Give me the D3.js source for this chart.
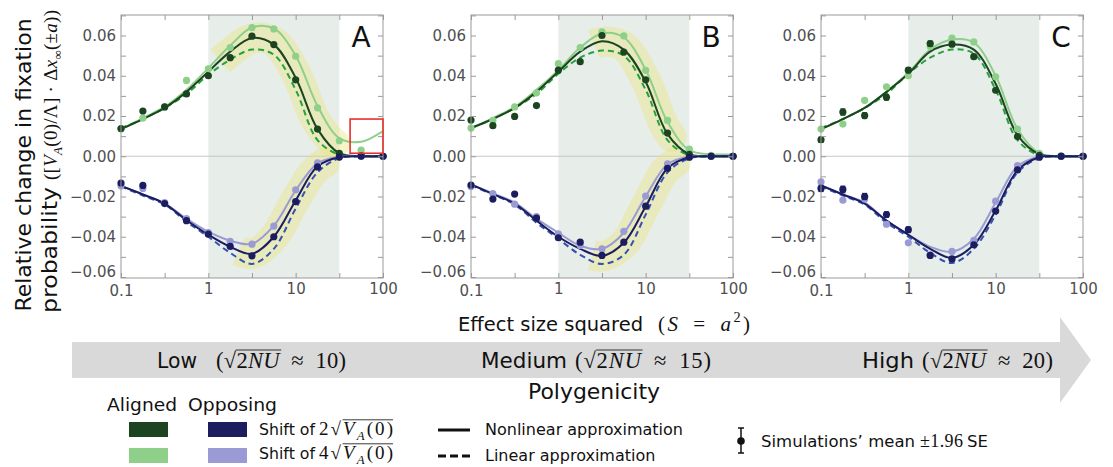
<!DOCTYPE html>
<html><head><meta charset="utf-8">
<script src="https://cdn.jsdelivr.net/npm/d3@7"></script>
<style>body{margin:0;background:#fff}svg{display:block}</style>
</head><body>
<svg id="c" width="1113" height="467"></svg>
<script>
// ---------- DATA ----------
const S = [0.1,0.178,0.316,0.562,1,1.78,3.16,5.62,10,17.8,31.6,56.2,100];
const xMajorTicks = [0.1,1,10,100];
const xTickLabels = ["0.1","1","10","100"];
const xMinorTicks = [0.316,3.16,31.6];
const yMajorTicks = [-0.06,-0.04,-0.02,0,0.02,0.04,0.06];
const yTickLabels = ["\u22120.06","\u22120.04","\u22120.02","0.00","0.02","0.04","0.06"];
const yMinorTicks = [-0.05,-0.03,-0.01,0.01,0.03,0.05,0.07];
const panelLetters = ["A","B","C"];
const shadeRange = [1,31.6];
const polyLabels = ["Low","Medium","High"];
const polyValues = ["10","15","20"];

// Panel A curves
const A_nonlinAligned2 = [0.0135,0.0185,0.024,0.032,0.042,0.052,0.0588,0.0555,0.039,0.0135,0.0015,0,0];
const A_nonlinAligned4 = [0.0135,0.019,0.0245,0.033,0.0438,0.055,0.064,0.0635,0.050,0.025,0.009,0.0072,0.0125];
const A_linAligned     = [0.014,0.0185,0.024,0.031,0.0405,0.048,0.053,0.0505,0.033,0.008,0.0008,0,0];
const A_nonlinOpp2     = [-0.0148,-0.019,-0.0235,-0.0318,-0.039,-0.045,-0.0485,-0.040,-0.022,-0.005,-0.0005,0,0];
const A_nonlinOpp4     = [-0.0148,-0.019,-0.0235,-0.031,-0.0375,-0.042,-0.0435,-0.0345,-0.017,-0.0035,-0.0002,0,0];
const A_linOpp         = [-0.015,-0.0195,-0.024,-0.0325,-0.040,-0.048,-0.0535,-0.046,-0.026,-0.008,-0.001,0,0];
// Panel A simulations
const A_simAligned2 = [0.0138,0.0225,0.0245,0.031,0.040,0.049,0.0597,0.0555,0.038,0.0135,0.0015,0.0002,0];
const A_simAligned4 = [0.0135,0.019,0.0245,0.0377,0.0435,0.054,0.064,0.0633,0.0497,0.024,0.0077,0.003,0];
const A_simOpp2     = [-0.0133,-0.0145,-0.0235,-0.032,-0.0387,-0.0448,-0.0495,-0.040,-0.0225,-0.0053,-0.0004,0,0];
const A_simOpp4     = [-0.0147,-0.016,-0.023,-0.031,-0.038,-0.0423,-0.0437,-0.0347,-0.0167,-0.0033,-0.0002,0,0];

// Panel B curves
const B_nonlinAligned2 = [0.014,0.0185,0.024,0.032,0.042,0.052,0.0572,0.053,0.037,0.011,0.001,0,0];
const B_nonlinAligned4 = [0.014,0.019,0.0245,0.033,0.0428,0.054,0.061,0.059,0.043,0.017,0.003,0.001,0.001];
const B_linAligned     = [0.014,0.0185,0.024,0.031,0.041,0.049,0.0525,0.050,0.033,0.008,0.0005,0,0];
const B_nonlinOpp2     = [-0.014,-0.0188,-0.0235,-0.032,-0.040,-0.046,-0.0495,-0.043,-0.025,-0.006,-0.0005,0,0];
const B_nonlinOpp4     = [-0.014,-0.0185,-0.023,-0.031,-0.038,-0.0445,-0.046,-0.038,-0.020,-0.004,-0.0002,0,0];
const B_linOpp         = [-0.0145,-0.019,-0.024,-0.033,-0.041,-0.049,-0.0535,-0.049,-0.029,-0.008,-0.001,0,0];
// Panel B simulations
const B_simAligned2 = [0.018,0.0152,0.0198,0.0252,0.0428,0.047,0.060,0.0518,0.038,0.0115,0.001,0,0];
const B_simAligned4 = [0.014,0.0178,0.0245,0.0315,0.046,0.054,0.0618,0.0598,0.0427,0.0178,0.0035,0.0005,0];
const B_simOpp2     = [-0.0143,-0.0213,-0.0188,-0.0307,-0.0405,-0.0427,-0.0493,-0.0427,-0.0248,-0.006,-0.0005,0,0];
const B_simOpp4     = [-0.015,-0.0185,-0.0238,-0.030,-0.0385,-0.0443,-0.046,-0.0373,-0.0198,-0.0038,-0.0002,0,0];

// Panel C curves
const C_nonlinAligned2 = [0.0135,0.0185,0.024,0.032,0.041,0.052,0.0555,0.053,0.036,0.0105,0.001,0,0];
const C_nonlinAligned4 = [0.0135,0.0185,0.024,0.032,0.0415,0.053,0.058,0.0565,0.040,0.0135,0.0015,0,0];
const C_linAligned     = [0.014,0.0185,0.024,0.031,0.041,0.049,0.053,0.051,0.033,0.008,0.0005,0,0];
const C_nonlinOpp2     = [-0.0145,-0.019,-0.0235,-0.032,-0.039,-0.046,-0.0505,-0.044,-0.027,-0.007,-0.0005,0,0];
const C_nonlinOpp4     = [-0.0145,-0.019,-0.023,-0.032,-0.039,-0.045,-0.0475,-0.041,-0.023,-0.005,-0.0002,0,0];
const C_linOpp         = [-0.015,-0.0195,-0.024,-0.033,-0.040,-0.048,-0.053,-0.046,-0.029,-0.008,-0.001,0,0];
// Panel C simulations
const C_simAligned2 = [0.0082,0.022,0.0202,0.0293,0.0428,0.056,0.0557,0.0495,0.0328,0.0098,0.0005,0,0];
const C_simAligned4 = [0.0135,0.016,0.0278,0.0345,0.040,0.0545,0.0587,0.0568,0.0395,0.0135,0.0015,0.0002,0];
const C_simOpp2     = [-0.016,-0.0165,-0.020,-0.029,-0.0365,-0.0493,-0.051,-0.044,-0.0272,-0.0068,-0.0005,0,0];
const C_simOpp4     = [-0.0127,-0.0218,-0.0213,-0.0338,-0.043,-0.049,-0.0473,-0.0418,-0.0223,-0.0047,-0.0002,0,0];
const C_seAligned2  = [0.0013,0.0015,0.0014,0.0013,0.0012,0.0012,0.0009,0.0008,0.0008,0.0006,0.0003,0.0002,0.0002];
const C_seOpp2      = [0.0015,0.0016,0.0015,0.0013,0.0013,0.0010,0.0008,0.0008,0.0008,0.0006,0.0003,0.0002,0.0002];

// Highlight bands (S ranges) and the red box in panel A
const bandAligned  = [[1.35,28],[2.5,20],null];
const bandOpposing = [[2.2,22],[2.4,22],null];
const redBoxS = [42,100];
const redBoxY = [0.0015,0.0185];

// ---------- STYLE ----------
const SANS = "DejaVu Sans", SERIF = "Liberation Serif";
const col = {
  dkG:"#1c4420", ltG:"#8ecf8a", dsG:"#25a23a",
  dkB:"#1b1d60", ltB:"#9a9bd4", dsB:"#3451b2"
};
const panels = [
  {c:[A_nonlinAligned2,A_nonlinAligned4,A_linAligned,A_nonlinOpp2,A_nonlinOpp4,A_linOpp], p:[A_simAligned2,A_simAligned4,A_simOpp2,A_simOpp4], se:null},
  {c:[B_nonlinAligned2,B_nonlinAligned4,B_linAligned,B_nonlinOpp2,B_nonlinOpp4,B_linOpp], p:[B_simAligned2,B_simAligned4,B_simOpp2,B_simOpp4], se:null},
  {c:[C_nonlinAligned2,C_nonlinAligned4,C_linAligned,C_nonlinOpp2,C_nonlinOpp4,C_linOpp], p:[C_simAligned2,C_simAligned4,C_simOpp2,C_simOpp4], se:[C_seAligned2,C_seOpp2]}
];

const svg = d3.select("#c");
const panelLeft = [121,471,821];
const PW = 262, PT = 15, PB = 278;
const y = d3.scaleLinear().domain([-0.0605,0.0702]).range([PB,PT]);

panels.forEach((P,i)=>{
  const L = panelLeft[i];
  const x = d3.scaleLog().domain([0.1,100]).range([L,L+PW]);
  const g = svg.append("g");
  svg.append("clipPath").attr("id","clip"+i).append("rect")
    .attr("x",L).attr("y",PT).attr("width",PW).attr("height",PB-PT);
  g.append("rect").attr("x",x(shadeRange[0])).attr("y",PT)
    .attr("width",x(shadeRange[1])-x(shadeRange[0])).attr("height",PB-PT).attr("fill","#e7ede9");
  g.append("line").attr("x1",L).attr("x2",L+PW).attr("y1",y(0)).attr("y2",y(0))
    .attr("stroke","#c6c6c6").attr("stroke-width",1);
  const cg = g.append("g").attr("clip-path",`url(#clip${i})`);
  const line = d3.line().x((d,j)=>x(S[j])).y(d=>y(d)).curve(d3.curveCatmullRom.alpha(0.5));

  // yellow highlight bands: butt start, rounded end
  [[bandAligned[i],P.c[1],P.c[2]],[bandOpposing[i],P.c[4],P.c[5]]].forEach(([rng,a,b])=>{
    if(!rng) return;
    const mid = a.map((v,j)=>(v+b[j])/2);
    const tmp = cg.append("path").attr("d",line(mid)).attr("fill","none");
    const node = tmp.node(), len = node.getTotalLength();
    const pts = [];
    for(let s=0;s<=len;s+=1){const pt=node.getPointAtLength(s); if(pt.x>=x(rng[0])&&pt.x<=x(rng[1])) pts.push([pt.x,pt.y]);}
    tmp.remove();
    const bg = cg.append("g").attr("opacity",0.38);
    const W = 30;
    bg.append("path").attr("d",d3.line()(pts)).attr("fill","none").attr("stroke","#ebe474")
      .attr("stroke-width",W).attr("stroke-linejoin","round");
    const e = pts[pts.length-1];
    bg.append("circle").attr("cx",e[0]).attr("cy",e[1]).attr("r",W/2).attr("fill","#ebe474");
  });

  // curves
  const specs = [
    [P.c[1],col.ltG,null],[P.c[2],col.dsG,"6,4"],[P.c[0],col.dkG,null],
    [P.c[4],col.ltB,null],[P.c[5],col.dsB,"6,4"],[P.c[3],col.dkB,null]
  ];
  specs.forEach(([d,c,dash])=>{
    cg.append("path").attr("d",line(d)).attr("fill","none").attr("stroke",c)
      .attr("stroke-width",2).attr("stroke-dasharray",dash);
  });

  // simulation points
  const ptSpecs = [[P.p[1],col.ltG],[P.p[3],col.ltB],[P.p[0],col.dkG,P.se?P.se[0]:null],[P.p[2],col.dkB,P.se?P.se[1]:null]];
  ptSpecs.forEach(([d,c,se])=>{
    d.forEach((v,j)=>{
      if(v===null) return;
      if(se){
        const y1=y(v+se[j]), y2=y(v-se[j]), cx=x(S[j]);
        g.append("line").attr("x1",cx).attr("x2",cx).attr("y1",y1).attr("y2",y2).attr("stroke",c).attr("stroke-width",1.3);
        [y1,y2].forEach(yy=>g.append("line").attr("x1",cx-2.5).attr("x2",cx+2.5).attr("y1",yy).attr("y2",yy).attr("stroke",c).attr("stroke-width",1.3));
      }
      g.append("circle").attr("cx",x(S[j])).attr("cy",y(v)).attr("r",3.6).attr("fill",c);
    });
  });

  // axes
  const xAll = xMajorTicks.concat(xMinorTicks);
  const yAll = yMajorTicks.concat(yMinorTicks);
  const fx = v => { const k = xMajorTicks.indexOf(v); return k>=0 ? xTickLabels[k] : ""; };
  const fy = v => { const k = yMajorTicks.findIndex(t=>Math.abs(t-v)<1e-9); return k>=0 ? yTickLabels[k] : ""; };
  const ax = [
    [d3.axisBottom(x).tickValues(xAll).tickFormat(fx),`translate(0,${PB})`],
    [d3.axisTop(x).tickValues(xAll).tickFormat(()=>""),`translate(0,${PT})`],
    [d3.axisLeft(y).tickValues(yAll).tickFormat(fy),`translate(${L},0)`],
    [d3.axisRight(y).tickValues(yAll).tickFormat(()=>""),`translate(${L+PW},0)`]
  ];
  ax.forEach(([a,tr],ai)=>{
    const s = svg.append("g").attr("transform",tr)
      .call(a.tickSizeInner(-5).tickSizeOuter(0).tickPadding(5));
    s.select(".domain").remove();
    s.selectAll("line").attr("stroke","#9a9a9a");
    s.selectAll("text").attr("font-family",SANS).attr("font-size",15).attr("fill","#4f4f4f");
    if(ai===2){
      // lift the lowest label a little so it does not sit on the "0.1" label
      s.selectAll("text").filter(d=>Math.abs(d-yMajorTicks[0])<1e-9).attr("dy","-0.05em");
    }
    if(ai===0){
      s.selectAll("text").filter(d=>d===xMajorTicks[0]).attr("dy","0.85em");
    }
  });
  svg.append("rect").attr("x",L).attr("y",PT).attr("width",PW).attr("height",PB-PT)
    .attr("fill","none").attr("stroke","#9a9a9a").attr("stroke-width",1);
  svg.append("text").attr("x",L+PW-22).attr("y",47).attr("text-anchor","middle")
    .attr("font-family",SANS).attr("font-size",28).attr("fill","#111").text(panelLetters[i]);

  if(i===0){
    svg.append("rect").attr("x",x(redBoxS[0])).attr("y",y(redBoxY[1]))
      .attr("width",x(redBoxS[1])-x(redBoxS[0])).attr("height",y(redBoxY[0])-y(redBoxY[1]))
      .attr("fill","none").attr("stroke","#e5302c").attr("stroke-width",1.6);
  }
});

// ---------- text helpers ----------
function addPieces(t, pieces, fs){
  let shift = 0;
  pieces.forEach(pc=>{
    const [str,kind,cls] = pc;
    const k = kind||"n";
    const s = t.append("tspan").text(str);
    let target=0, size=fs;
    if(k.startsWith("sub")){target=fs*0.25; size=fs*0.68;}
    if(k.startsWith("sup")){target=-fs*0.42; size=fs*0.68;}
    if(target!==shift) s.attr("dy",target-shift);
    shift=target;
    s.attr("font-size",size);
    if(k==="i"||k==="subi") s.attr("font-style","italic");
    if(cls) s.classed(cls,true);
  });
}
function mathText(attrs, pieces, fs, len){
  const t = svg.append("text").attr("font-family",SERIF).attr("fill","#111");
  Object.entries(attrs).forEach(([k,v])=>t.attr(k,v));
  if(len) t.attr("textLength",len).attr("lengthAdjust","spacing");
  addPieces(t,pieces,fs);
  return t;
}
function sansText(x,yy,str,fs,len,anchor){
  const t = svg.append("text").attr("x",x).attr("y",yy).attr("font-family",SANS)
    .attr("font-size",fs).attr("fill","#111").text(str);
  if(len) t.attr("textLength",len).attr("lengthAdjust","spacingAndGlyphs");
  if(anchor) t.attr("text-anchor",anchor);
  return t;
}
function drawOverline(cls, baseY, fs){
  let l=Infinity,r=-Infinity;
  svg.selectAll("tspan."+cls).nodes().forEach(n=>{const b=n.getBoundingClientRect(); l=Math.min(l,b.left); r=Math.max(r,b.right);});
  const yy = baseY-0.8*fs;
  svg.append("line").attr("x1",l-0.5).attr("x2",r).attr("y1",yy).attr("y2",yy).attr("stroke","#222").attr("stroke-width",0.9);
}
const EN = "\u2002";

// ---------- y axis title ----------
svg.append("text").attr("transform","translate(31,165) rotate(-90)").attr("text-anchor","middle")
  .attr("font-family",SANS).attr("font-size",22).attr("fill","#111").text("Relative change in fixation");
svg.append("text").attr("transform","translate(57,313) rotate(-90)")
  .attr("font-family",SANS).attr("font-size",22).attr("fill","#111")
  .attr("textLength",126).attr("lengthAdjust","spacingAndGlyphs").text("probability");
mathText({transform:"translate(57,180) rotate(-90)"},
  [["(["],["V","i"],["A","subi"],["(0)/\u039B] \u00B7 \u0394"],["x","i"],["\u221E","sub"],["(\u00B1"],["a","i"],["))"]],19,170);

// ---------- x axis title ----------
sansText(458,331,"Effect size squared",19.5,185);
mathText({x:658,y:331},[["("],["S","i"],[EN+"="+EN],["a","i"],["2","sup"],[")"]],21,92);

// ---------- polygenicity arrow ----------
svg.append("path").attr("d","M72,342 L1060,342 L1060,317 L1091,360 L1060,403 L1060,378 L72,378 Z").attr("fill","#d9d9d9");
const polyX = [157,481,862];
const polyW = [40,86,52];
const polyMathX = [216,575,922];
const polyMathW = [130,136,131];
polyLabels.forEach((lab,k)=>{
  sansText(polyX[k],368,lab,21.5,polyW[k]);
  mathText({x:polyMathX[k],y:368},[["("],["\u221A"],["2","n","ovP"+k],["NU","i","ovP"+k],[EN+"\u2248"+EN+polyValues[k]+")"]],22.5,polyMathW[k]);
  drawOverline("ovP"+k,368,22.5);
});
sansText(594,399,"Polygenicity",21,132,"middle");

// ---------- legend ----------
sansText(107,411,"Aligned",18.5,70);
sansText(188,411,"Opposing",18.5,89);
[[129,422,col.dkG],[129,448,col.ltG],[208,422,col.dkB],[208,448,col.ltB]].forEach(([xx,yy,c])=>{
  svg.append("rect").attr("x",xx).attr("y",yy).attr("width",39).attr("height",15).attr("fill",c);
});
[["2",435,"ovS1"],["4",459,"ovS2"]].forEach(([m,yy,cls])=>{
  sansText(259,yy,"Shift of",16.2,56);
  mathText({x:319,y:yy},[[m],["\u221A"],["V","i",cls],["A","subi",cls],["(0)","n",cls]],19,74);
  drawOverline(cls,yy,19);
});
svg.append("line").attr("x1",438).attr("x2",470).attr("y1",430).attr("y2",430).attr("stroke","#111").attr("stroke-width",3);
svg.append("line").attr("x1",438).attr("x2",470).attr("y1",456).attr("y2",456).attr("stroke","#111").attr("stroke-width",3).attr("stroke-dasharray","8,4");
sansText(485,435,"Nonlinear approximation",16,198);
sansText(485,461,"Linear approximation",16);
svg.append("line").attr("x1",741).attr("x2",741).attr("y1",428).attr("y2",453).attr("stroke","#111").attr("stroke-width",1.5);
[428,453].forEach(yy=>svg.append("line").attr("x1",738).attr("x2",744).attr("y1",yy).attr("y2",yy).attr("stroke","#111").attr("stroke-width",1.5));
svg.append("circle").attr("cx",741).attr("cy",441).attr("r",3.8).attr("fill","#111");
sansText(761,447,"Simulations\u2019 mean",16.5,154);
mathText({x:920,y:447},[["\u00B11.96"]],18,43);
sansText(967,447,"SE",16.5);
</script>
</body></html>
